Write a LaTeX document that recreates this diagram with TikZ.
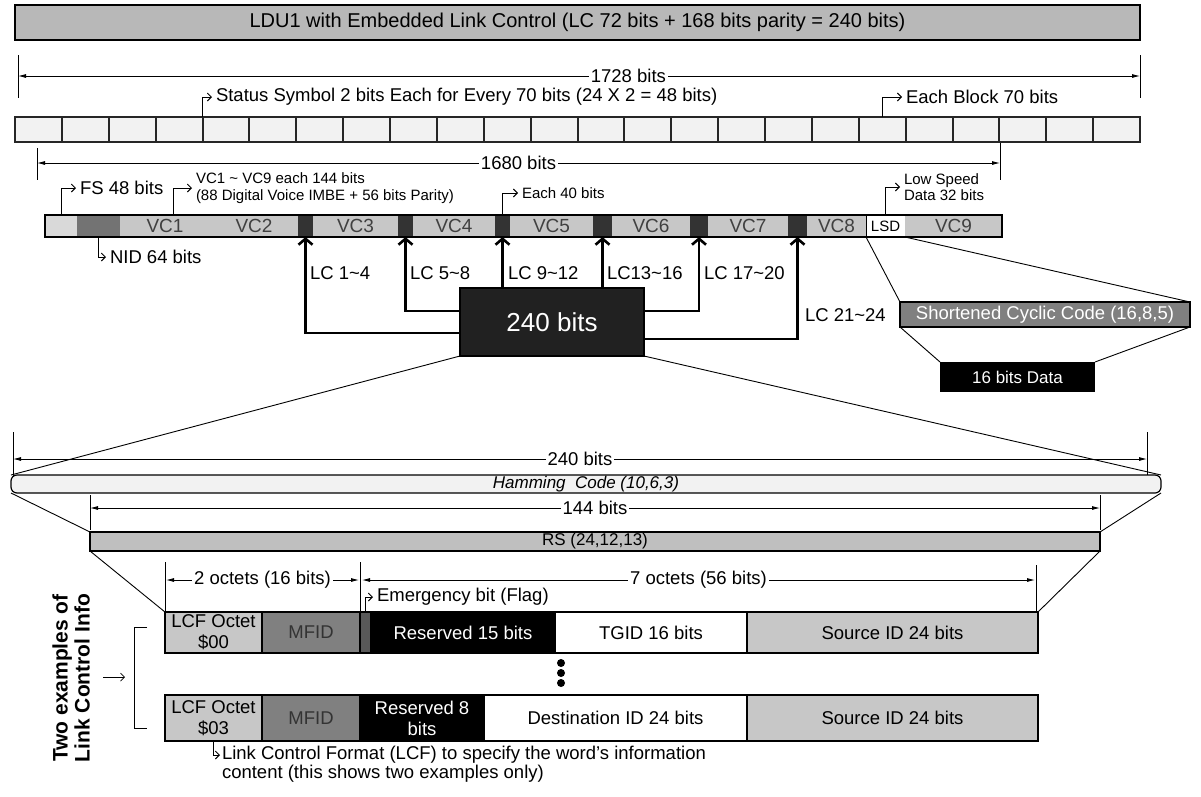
\documentclass[tikz,border=0pt]{standalone}
\usepackage{fontspec}
\setmainfont{Liberation Sans}
\usetikzlibrary{arrows.meta}
\newcommand\blk[7]{\node[#6, minimum width={#3-#2}, minimum height={#5-#4}, anchor=north west] (#1) at (#2,#4) {#7};}
\begin{document}
\begin{tikzpicture}[x=1pt,y=-1pt,
  every node/.style={inner sep=0pt, outer sep=0pt},
  lbl/.style={font=\fontsize{18.5}{21}\selectfont},
  sml/.style={font=\fontsize{15}{16.5}\selectfont},
  ctx/.style={inner xsep=4pt},
  dlab/.style={lbl, fill=white, inner sep=2pt},
  dim/.style={line width=0.8pt, <->, >={Latex[length=8pt,width=4pt]}},
  tk/.style={line width=0.8pt},
  call/.style={line width=0.9pt, ->, >={Straight Barb[length=4pt,width=8pt]}},
  lcarr/.style={line width=2.6pt, ->, >={Straight Barb[length=6pt,width=14pt]}},
  fan/.style={line width=0.9pt},
  vclab/.style={font=\fontsize{19}{20}\selectfont, text=black!75},
  rowcell/.style={draw, line width=1.2pt, align=center, font=\fontsize{18.5}{21}\selectfont}]
\fill[white] (0,0) rectangle (1201,796);
\useasboundingbox (0,0) rectangle (1201,796);

% top bar
\blk{top}{15}{1140}{5}{40}{draw, line width=2pt, fill=black!28, font=\fontsize{20}{22}\selectfont}{LDU1 with Embedded Link Control (LC 72 bits + 168 bits parity = 240 bits)}

% 1728 bits
\coordinate (a1) at (18,76); \coordinate (b1) at (1140,76);
\draw[tk] (18,55) -- (18,98); \draw[tk] (1140,55) -- (1140,98);
\draw[dim] (a1) -- node[dlab, pos=0.544] (l1728) {1728 bits} (b1);

% status symbols
\node[lbl, ctx, anchor=west] (sst) at (212,97) {Status Symbol 2 bits Each for Every 70 bits (24 X 2 = 48 bits)};
\node[lbl, ctx, anchor=west] (ebt) at (902,97) {Each Block 70 bits};
\foreach \i in {0,...,23} {
  \node[draw=black!85, line width=2pt, fill=black!5, minimum width=46.875pt, minimum height=25pt, anchor=north west] (s\i) at ({15+\i*46.875},117) {};
}
\draw[call] (s4.north west) |- (sst.west);
\draw[call] (s18.north) |- (ebt.west);

% 1680 bits
\coordinate (a2) at (37,163); \coordinate (b2) at (1000,163);
\draw[tk] (37,148) -- (37,180); \draw[tk] (1000,143) -- (1000,180);
\draw[dim] (a2) -- node[dlab] (l1680) {1680 bits} (b2);

% VC row
\blk{fs}{45}{77}{215}{237}{fill=black!15}{}
\blk{nid}{77}{120}{215}{237}{fill=black!55}{}
\blk{vc1}{120}{210}{215}{237}{fill=black!22, vclab}{VC1}
\blk{vc2}{210}{298}{215}{237}{fill=black!22, vclab}{VC2}
\blk{lc1}{298}{313}{215}{237}{fill=black!80}{}
\blk{vc3}{313}{398}{215}{237}{fill=black!22, vclab}{VC3}
\blk{lc2}{398}{413}{215}{237}{fill=black!80}{}
\blk{vc4}{413}{495}{215}{237}{fill=black!22, vclab}{VC4}
\blk{lc3}{495}{510}{215}{237}{fill=black!80}{}
\blk{vc5}{510}{593}{215}{237}{fill=black!22, vclab}{VC5}
\blk{lc4}{593}{612}{215}{237}{fill=black!80}{}
\blk{vc6}{612}{690}{215}{237}{fill=black!22, vclab}{VC6}
\blk{lc5}{690}{708}{215}{237}{fill=black!80}{}
\blk{vc7}{708}{788}{215}{237}{fill=black!22, vclab}{VC7}
\blk{lc6}{788}{807}{215}{237}{fill=black!80}{}
\blk{vc8}{807}{866}{215}{237}{fill=black!22, vclab}{VC8}
\blk{lsd}{866}{905}{215}{237}{draw, line width=1pt, fill=white, font=\fontsize{15}{16}\selectfont}{LSD}
\blk{vc9}{905}{1002}{215}{237}{fill=black!22, vclab}{VC9}
\blk{vcrow}{45}{1002}{215}{237}{draw, line width=2.5pt}{}

% callouts above VC row
\node[lbl, ctx, anchor=west] (fst) at (76,188) {FS 48 bits};
\draw[call] (fs.north) |- (fst.west);
\node[sml, ctx, anchor=west, align=left] (vct) at (192,188) {VC1 \textasciitilde{} VC9 each 144 bits\\(88 Digital Voice IMBE + 56 bits Parity)};
\draw[call] ([xshift=8pt]vc1.north) |- (vct.west);
\node[sml, ctx, anchor=west] (e40) at (518,193) {Each 40 bits};
\draw[call] (lc3.north) |- (e40.west);
\node[sml, ctx, anchor=west, align=left] (lsdt) at (900,187) {Low Speed\\Data 32 bits};
\draw[call] (lsd.north) |- (lsdt.west);
\node[lbl, ctx, anchor=west] (nidt) at (106,257) {NID 64 bits};
\draw[call] (nid.south) |- (nidt.west);

% 240 bits box and LC arrows
\blk{lcbox}{460}{644}{288}{356}{draw, line width=1.5pt, fill=black!87, text=white, font=\fontsize{26}{28}\selectfont}{240 bits}
\coordinate (yA) at (0,333); \coordinate (yB) at (0,311); \coordinate (yC) at (0,339);
\draw[lcarr] (lcbox.west |- yA) -| (lc1.south);
\draw[lcarr] (lcbox.west |- yB) -| (lc2.south);
\draw[lcarr] (lcbox.north -| lc3.south) -- (lc3.south);
\draw[lcarr] (lcbox.north -| lc4.south) -- (lc4.south);
\draw[lcarr] (lcbox.east |- yB) -| (lc5.south);
\draw[lcarr] (lcbox.east |- yC) -| (lc6.south);
\node[lbl, anchor=west] (t1) at (310,273) {LC 1\textasciitilde 4};
\node[lbl, anchor=west] (t2) at (410,273) {LC 5\textasciitilde 8};
\node[lbl, anchor=west] (t3) at (508,273) {LC 9\textasciitilde 12};
\node[lbl, anchor=west] (t4) at (607,273) {LC13\textasciitilde 16};
\node[lbl, anchor=west] (t5) at (704,273) {LC 17\textasciitilde 20};
\node[lbl, anchor=west] (t6) at (805,315) {LC 21\textasciitilde 24};

% shortened cyclic code
\blk{scc}{900}{1190}{302}{327}{draw, line width=1.5pt, fill=black!50, text=white, lbl}{Shortened Cyclic Code (16,8,5)}
\draw[fan] (lsd.south west) -- (scc.north west);
\draw[fan] (lsd.south east) -- (scc.north east);
\blk{d16}{940}{1095}{362}{392}{fill=black, text=white, font=\fontsize{17}{19}\selectfont}{16 bits Data}
\draw[fan] (scc.south west) -- (d16.north west);
\draw[fan] (scc.south east) -- (d16.north east);

% 240 bits dimension
\coordinate (a3) at (13,459); \coordinate (b3) at (1147,459);
\draw[tk] (13,432) -- (13,477); \draw[tk] (1147,432) -- (1147,477);
\draw[dim] (a3) -- node[dlab] (l240) {240 bits} (b3);

% Hamming
\blk{ham}{11}{1161}{475}{493}{draw, line width=1.2pt, rounded corners=6pt, fill=black!5, font=\itshape\fontsize{17}{19}\selectfont}{Hamming\ \ Code (10,6,3)}
\draw[fan] (lcbox.south west) -- (ham.north west);
\draw[fan] (lcbox.south east) -- (ham.north east);

% 144 bits
\coordinate (a4) at (90,508); \coordinate (b4) at (1100,508);
\draw[tk] (90,495) -- (90,530); \draw[tk] (1100,495) -- (1100,530);
\draw[dim] (a4) -- node[dlab] (l144) {144 bits} (b4);

% RS
\blk{rs}{90}{1100}{532}{551}{draw, line width=1.5pt, fill=black!25, font=\fontsize{17}{19}\selectfont}{RS (24,12,13)}
\draw[fan] (ham.south west) -- (rs.north west);
\draw[fan] (ham.south east) -- (rs.north east);

% octets
\draw[tk] (165,562) -- (165,612); \draw[tk] (360,562) -- (360,612); \draw[tk] (1036,565) -- (1036,612);
\coordinate (a5) at (166,580); \coordinate (b5) at (359,580);
\coordinate (a6) at (362,580); \coordinate (b6) at (1035,580);
\draw[dim] (a5) -- node[dlab] (loct2) {2 octets (16 bits)} (b5);
\draw[dim] (a6) -- node[dlab] (loct7) {7 octets (56 bits)} (b6);

% row 1
\blk{lcf1}{165}{262}{612}{653}{rowcell, fill=black!22}{LCF Octet\\\$00}
\blk{mfid1}{262}{360}{612}{653}{rowcell, fill=black!50, text=black!80}{MFID}
\blk{emb}{360}{371}{612}{653}{rowcell, fill=black!65}{}
\blk{res1}{371}{555}{612}{653}{rowcell, fill=black, text=white}{Reserved 15 bits}
\blk{tgid}{555}{747}{612}{653}{rowcell, fill=white}{TGID 16 bits}
\blk{src1}{747}{1038}{612}{653}{rowcell, fill=black!22}{Source ID 24 bits}
\draw[fan] (rs.south west) -- (lcf1.north west);
\draw[fan] (rs.south east) -- (src1.north east);
\node[lbl, ctx, anchor=west] (emt) at (373,597) {Emergency bit (Flag)};
\draw[call] (emb.north) |- (emt.west);

% dots
\node[circle, fill, minimum size=8pt] (dot1) at (561,663) {};
\node[circle, fill, minimum size=8pt] (dot2) at (561,673) {};
\node[circle, fill, minimum size=8pt] (dot3) at (561,683) {};

% row 2
\blk{lcf2}{165}{262}{695}{741}{rowcell, fill=black!22}{LCF Octet\\\$03}
\blk{mfid2}{262}{360}{695}{741}{rowcell, fill=black!50, text=black!80}{MFID}
\blk{res2}{360}{484}{695}{741}{rowcell, fill=black, text=white}{Reserved 8\\bits}
\blk{dst}{484}{747}{695}{741}{rowcell, fill=white}{Destination ID 24 bits}
\blk{src2}{747}{1038}{695}{741}{rowcell, fill=black!22}{Source ID 24 bits}

% LCF note
\node[lbl, anchor=west, inner xsep=2pt] (lcft1) at (220,755) {Link Control Format (LCF) to specify the word's information};
\node[lbl, anchor=west, inner xsep=2pt] (lcft2) at (220,774) {content (this shows two examples only)};
\draw[call] (lcf2.south) |- (lcft1.west);

% side label
\node[rotate=90, align=center, font=\bfseries\fontsize{21}{22}\selectfont] (two) at (71,678) {Two examples of\\Link Control Info};
\draw[line width=0.9pt] (147,627) -- (134,627) -- (134,728) -- (147,728);
\coordinate (arS) at (103,677); \coordinate (arE) at (125,677);
\draw[line width=0.7pt, ->, >={Straight Barb[length=4pt,width=8pt]}] (arS) -- (arE);
\end{tikzpicture}
\end{document}
